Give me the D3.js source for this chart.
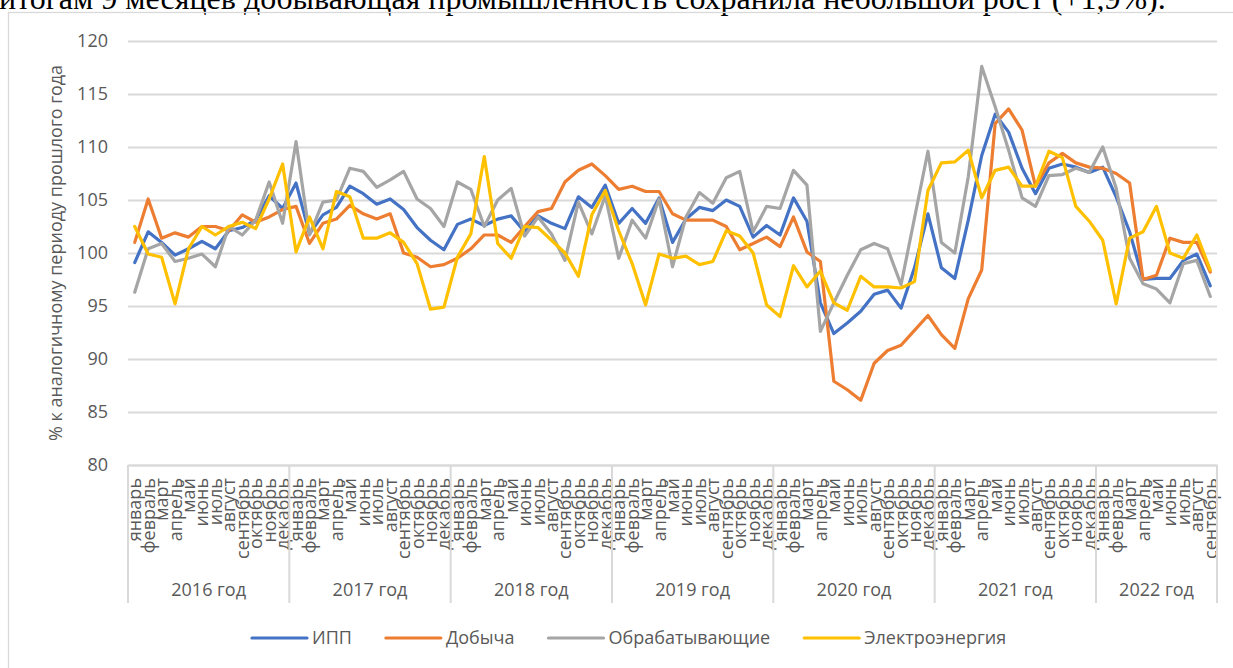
<!DOCTYPE html>
<html>
<head>
<meta charset="utf-8">
<script src="https://cdn.jsdelivr.net/npm/d3@7/dist/d3.min.js"></script>
<style>
  body { margin: 0; background: #fff; overflow: hidden; }
  svg { display: block; font-family: "Open Sans", sans-serif; }
</style>
</head>
<body>
<svg id="chart" width="1233" height="668"></svg>
<script>
// Данные
const months = ['январь', 'февраль', 'март', 'апрель', 'май', 'июнь', 'июль', 'август', 'сентябрь', 'октябрь', 'ноябрь', 'декабрь'];
const years = ['2016 год', '2017 год', '2018 год', '2019 год', '2020 год', '2021 год', '2022 год'];
const monthsInYear = [12, 12, 12, 12, 12, 12, 9];
const yTicks = [80, 85, 90, 95, 100, 105, 110, 115, 120];
const seriesNames = ['ИПП', 'Добыча', 'Обрабатывающие', 'Электроэнергия'];
const seriesColors = ['#4472C4', '#ED7D31', '#A5A5A5', '#FFC000'];

const ipp = [
  99.1, 102.0, 101.0, 99.8, 100.4, 101.1, 100.4, 102.1, 102.4, 103.1, 105.4, 104.2,
  106.6, 101.8, 103.6, 104.3, 106.3, 105.6, 104.6, 105.1, 104.1, 102.4, 101.2, 100.3,
  102.7, 103.2, 102.6, 103.2, 103.5, 102.0, 103.5, 102.8, 102.3, 105.3, 104.3, 106.4,
  102.8, 104.2, 102.8, 105.2, 101.0, 103.2, 104.3, 104.0, 105.0, 104.4, 101.5, 102.6,
  101.7, 105.2, 103.0, 95.3, 92.4, 93.4, 94.5, 96.1, 96.5, 94.8, 98.6, 103.7,
  98.6, 97.6, 103.1, 109.2, 113.1, 111.4, 108.0, 105.6, 108.0, 108.4, 108.1, 107.6,
  108.1, 105.3, 102.0, 97.5, 97.6, 97.6, 99.3, 99.9, 96.9
];
const dobycha = [
  101.0, 105.1, 101.4, 101.9, 101.5, 102.5, 102.5, 102.1, 103.6, 102.9, 103.4, 104.1,
  104.4, 100.9, 102.8, 103.2, 104.5, 103.7, 103.2, 103.7, 100.0, 99.6, 98.7, 98.9,
  99.5, 100.4, 101.7, 101.7, 101.0, 102.5, 103.9, 104.2, 106.7, 107.8, 108.4, 107.3,
  106.0, 106.3, 105.8, 105.8, 103.7, 103.1, 103.1, 103.1, 102.5, 100.3, 100.9, 101.5,
  100.6, 103.4, 100.1, 99.2, 87.9, 87.1, 86.1, 89.6, 90.8, 91.3, 92.7, 94.1,
  92.3, 91.0, 95.7, 98.4, 112.2, 113.6, 111.6, 106.3, 108.5, 109.4, 108.5, 108.1,
  108.0, 107.5, 106.6, 97.5, 97.9, 101.4, 101.0, 101.0, 98.2
];
const obrab = [
  96.3, 100.4, 100.9, 99.2, 99.5, 99.9, 98.7, 102.5, 101.7, 103.1, 106.7, 102.8,
  110.5, 101.7, 104.8, 105.0, 108.0, 107.7, 106.2, 106.9, 107.7, 105.1, 104.2, 102.5,
  106.7, 106.0, 102.5, 105.0, 106.1, 101.6, 103.4, 101.8, 99.3, 104.8, 101.8, 105.4,
  99.5, 103.1, 101.4, 105.1, 98.7, 103.4, 105.7, 104.7, 107.1, 107.7, 102.0, 104.4,
  104.2, 107.8, 106.4, 92.6, 95.3, 97.9, 100.3, 100.9, 100.4, 97.0, 103.3, 109.6,
  101.0, 100.0, 107.2, 117.6, 113.8, 109.7, 105.2, 104.4, 107.3, 107.4, 108.0, 107.6,
  110.0, 106.1, 99.5, 97.1, 96.6, 95.3, 99.0, 99.3, 95.9
];
const elektro = [
  102.5, 99.9, 99.6, 95.2, 100.4, 102.5, 101.7, 102.5, 102.9, 102.3, 105.1, 108.4,
  100.1, 103.4, 100.4, 105.8, 105.3, 101.4, 101.4, 101.9, 101.0, 99.0, 94.7, 94.9,
  99.6, 101.8, 109.1, 100.9, 99.5, 102.5, 102.4, 101.2, 100.0, 97.8, 103.6, 105.9,
  102.1, 99.0, 95.1, 99.9, 99.5, 99.7, 98.9, 99.2, 102.1, 101.6, 100.0, 95.1,
  94.0, 98.8, 96.8, 98.3, 95.3, 94.6, 97.8, 96.8, 96.8, 96.7, 97.3, 105.9,
  108.5, 108.6, 109.7, 105.2, 107.8, 108.1, 106.3, 106.3, 109.6, 109.0, 104.4, 103.0,
  101.2, 95.2, 101.4, 102.0, 104.4, 100.0, 99.5, 101.7, 98.4
];
const seriesValues = [ipp, dobycha, obrab, elektro];

let svg = d3.select('#chart');
const gray = '#d9d9d9';
const textColor = '#595959';

// Текст документа над диаграммой
svg.append('text')
  .attr('x', -1)
  .attr('y', 9)
  .style('font-family', '"Liberation Serif", "Times New Roman", serif')
  .style('font-size', '32px')
  .attr('fill', '#000')
  .text('итогам 9 месяцев добывающая промышленность сохранила небольшой рост (+1,9%).');

// Рамка диаграммы
svg.append('rect')
  .attr('x', 8.5).attr('y', 12.5)
  .attr('width', 1260).attr('height', 700)
  .attr('fill', 'none')
  .attr('stroke', gray)
  .attr('stroke-width', 1.3);

let margin = {top: 41, left: 128, right: 16, bottom: 203};
let width = 1233 - margin.left - margin.right;
let height = 668 - margin.top - margin.bottom;

let chart = svg.append('g')
  .attr('transform', 'translate(' + margin.left + ',' + margin.top + ')');

// Шкалы
let idx = d3.range(ipp.length);
let x = d3.scaleBand().domain(idx).range([0, width]).padding(0);
let y = d3.scaleLinear().domain([80, 120]).range([height, 0]);
let xc = function(i) { return x(i) + x.bandwidth() / 2; };

// Ось Y с сеткой
let yAxis = function(g) {
  g.call(d3.axisLeft(y).tickValues(yTicks).tickSize(-width).tickPadding(20));
  g.select('.domain').remove();
  g.selectAll('.tick line').attr('stroke', gray).attr('stroke-width', 2);
  g.selectAll('.tick text')
    .attr('fill', textColor)
    .style('font-size', '18px')
    .style('font-family', '"Open Sans", sans-serif');
};
chart.append('g').call(yAxis);

// Подпись оси Y
svg.append('text')
  .attr('transform', 'translate(62,' + (margin.top + height / 2) + ') rotate(-90)')
  .attr('text-anchor', 'middle')
  .attr('fill', textColor)
  .style('font-size', '18px')
  .text('% к аналогичному периоду прошлого года');

// Ось X: месяцы
let xAxis = function(g) {
  g.call(d3.axisBottom(x).tickSize(0).tickFormat(function(i) { return months[i % 12]; }));
  g.select('.domain').attr('stroke', gray).attr('stroke-width', 2);
  g.selectAll('.tick text')
    .attr('transform', 'rotate(-90)')
    .attr('text-anchor', 'end')
    .attr('x', -13)
    .attr('y', 0)
    .attr('dy', '0.36em')
    .attr('fill', textColor)
    .style('font-size', '18px')
    .style('font-family', '"Open Sans", sans-serif');
};
chart.append('g')
  .attr('transform', 'translate(0,' + height + ')')
  .call(xAxis);

// Годы: разделители и подписи
let starts = [0];
monthsInYear.forEach(function(n, i) { starts.push(starts[i] + n); });
let yearG = chart.append('g').attr('transform', 'translate(0,' + height + ')');
yearG.selectAll('.sep')
  .data(starts)
  .enter()
  .append('line')
  .attr('class', 'sep')
  .attr('x1', function(s) { return s < idx.length ? x(s) : width; })
  .attr('x2', function(s) { return s < idx.length ? x(s) : width; })
  .attr('y1', 0)
  .attr('y2', 138)
  .attr('stroke', gray)
  .attr('stroke-width', 2);
yearG.selectAll('.year')
  .data(years)
  .enter()
  .append('text')
  .attr('class', 'year')
  .attr('x', function(d, i) {
    let a = x(starts[i]);
    let b = starts[i + 1] < idx.length ? x(starts[i + 1]) : width;
    return (a + b) / 2;
  })
  .attr('y', 125)
  .attr('dy', '0.35em')
  .attr('text-anchor', 'middle')
  .attr('fill', textColor)
  .style('font-size', '18px')
  .text(function(d) { return d; });

// Линии рядов
let line = d3.line()
  .x(function(d, i) { return xc(i); })
  .y(function(d) { return y(d); });

chart.selectAll('.series')
  .data(seriesValues)
  .enter()
  .append('path')
  .attr('class', 'series')
  .attr('d', line)
  .attr('fill', 'none')
  .attr('stroke', function(d, i) { return seriesColors[i]; })
  .attr('stroke-width', 3.2)
  .attr('stroke-linejoin', 'round')
  .attr('stroke-linecap', 'round');

// Легенда
let legend = svg.append('g').attr('transform', 'translate(252,638)');
let lx = 0;
seriesNames.forEach(function(name, i) {
  let item = legend.append('g').attr('transform', 'translate(' + lx + ',0)');
  item.append('line')
    .attr('x1', 0).attr('x2', 55)
    .attr('y1', 0).attr('y2', 0)
    .attr('stroke', seriesColors[i])
    .attr('stroke-width', 3.2)
    .attr('stroke-linecap', 'round');
  let t = item.append('text')
    .attr('x', 60)
    .attr('dy', '0.35em')
    .attr('fill', textColor)
    .style('font-size', '18px')
    .text(name);
  lx += 60 + t.node().getComputedTextLength() + 34;
});
</script>
</body>
</html>
